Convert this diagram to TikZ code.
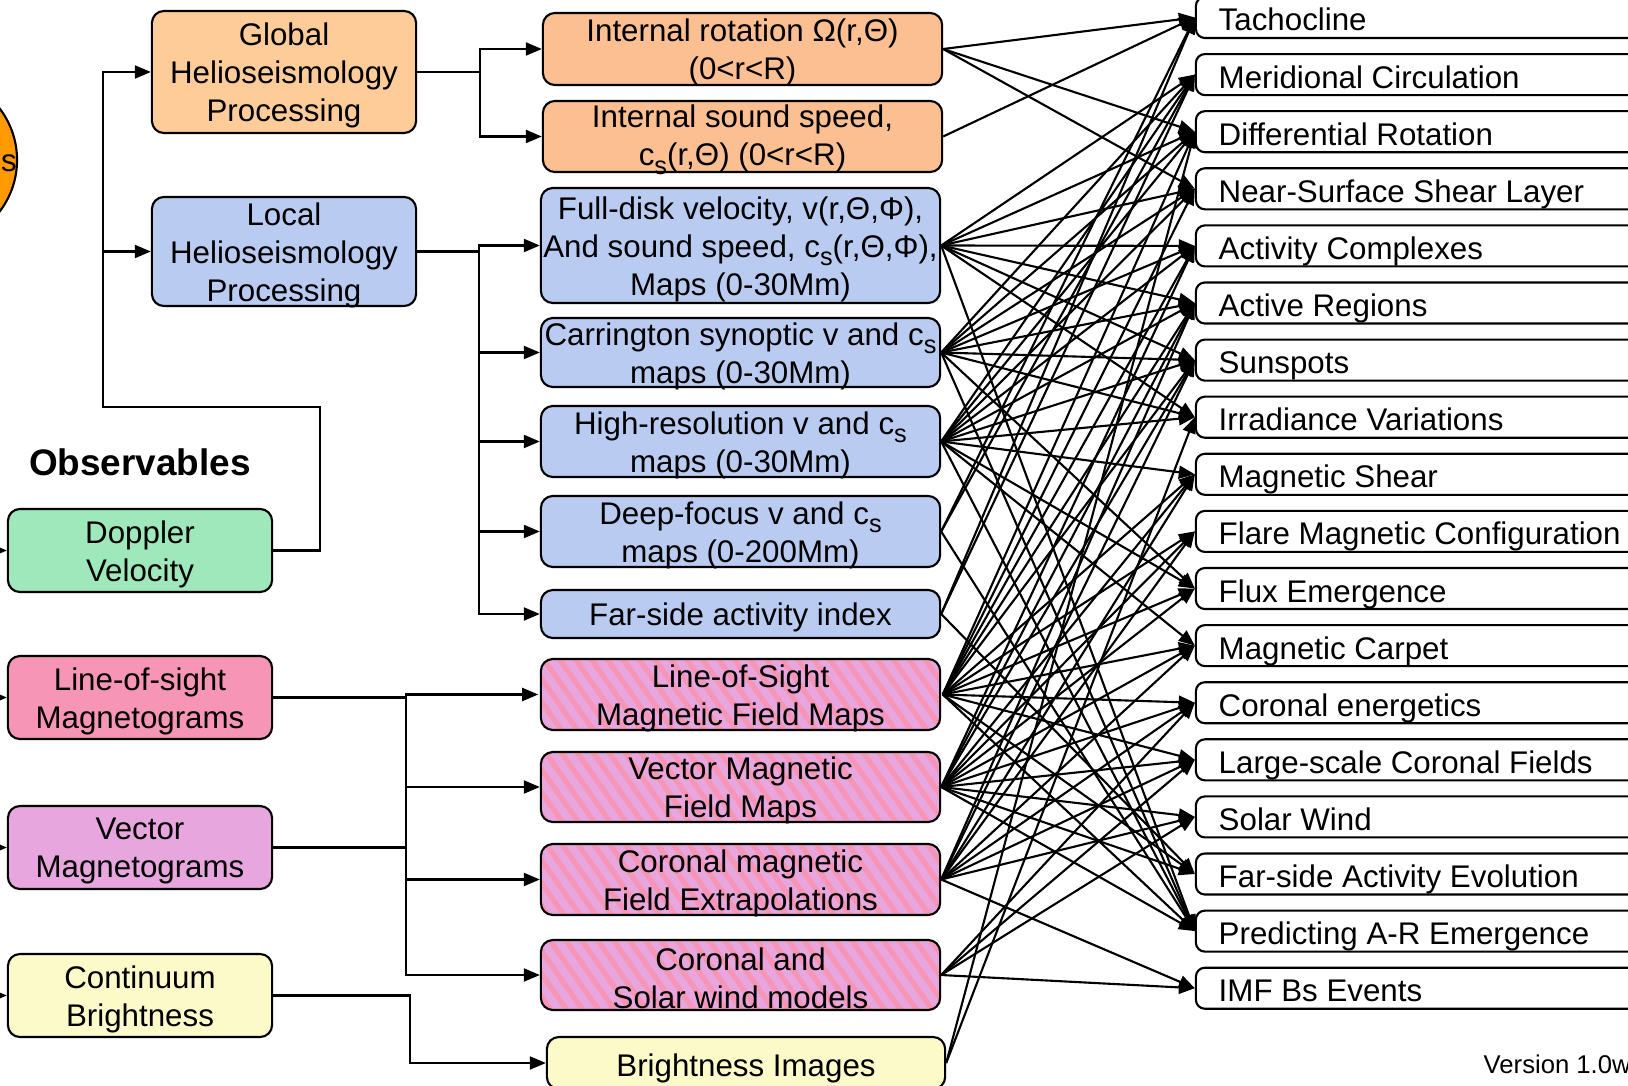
\documentclass[tikz,border=0pt]{standalone}
\usepackage{fontspec}
\setmainfont{Liberation Sans}
\usetikzlibrary{arrows.meta,patterns.meta}

\definecolor{globalorange}{HTML}{FECC99}
\definecolor{productorange}{HTML}{FCBF91}
\definecolor{helioblue}{HTML}{BACBF2}
\definecolor{dopplergreen}{HTML}{9EE8BB}
\definecolor{lospink}{HTML}{F795B6}
\definecolor{vectorviolet}{HTML}{E8A6DF}
\definecolor{contyellow}{HTML}{FCFAC9}
\definecolor{sunorange}{HTML}{FF9A00}

% sound-speed subscript
\newcommand\subs{\raisebox{-0.28em}{\fontsize{7.2}{8}\selectfont s}}

\begin{document}
\begin{tikzpicture}[x=0.01cm, y=-0.01cm,
  font=\fontsize{8.9}{10.8}\selectfont,
  procbox/.style={draw, rounded corners=0.12cm, line width=0.6pt, inner sep=0pt},
  magbox/.style={procbox, preaction={fill=vectorviolet},
    pattern={Lines[angle=-55, distance=3.7pt, line width=1.5pt]}, pattern color=lospink},
  topicbox/.style={draw, rounded corners=0.09cm, line width=0.6pt, inner sep=0pt,
    minimum width=4.6cm, minimum height=0.41cm},
  label/.style={align=center, inner sep=0pt, yshift=-0.035cm},
  topic/.style={anchor=base west, inner sep=0pt},
  link/.style={line width=0.6pt},
  arr/.style={link, -{Triangle[length=0.16cm, width=0.13cm]}}]

\useasboundingbox (0,0) rectangle (1628,1085);

% instrument disc at the left edge
\node[circle, draw, line width=0.6pt, fill=sunorange, minimum size=1.7cm] (sun) at (-68,160) {};
\node[anchor=base west, inner sep=0pt] (sunlbl) at (0.5,172) {s};

% observables
\node[font=\bfseries\fontsize{10.5}{12}\selectfont] (obs) at (140,462) {Observables};
\node[procbox, fill=dopplergreen, minimum width=2.64cm, minimum height=0.83cm] (dop) at (140,550.5) {};
\node[label] at (dop) {Doppler\\Velocity};
\node[procbox, fill=lospink, minimum width=2.64cm, minimum height=0.83cm] (los) at (140,697.5) {};
\node[label] at (los) {Line-of-sight\\Magnetograms};
\node[procbox, fill=vectorviolet, minimum width=2.64cm, minimum height=0.83cm] (vec) at (140,847.5) {};
\node[label] at (vec) {Vector\\Magnetograms};
\node[procbox, fill=contyellow, minimum width=2.64cm, minimum height=0.83cm] (cont) at (140,995.5) {};
\node[label] at (cont) {Continuum\\Brightness};

% processing pipelines
\node[procbox, fill=globalorange, minimum width=2.64cm, minimum height=1.22cm] (glob) at (284,72) {};
\node[label] at (glob) {Global\\Helioseismology\\Processing};
\node[procbox, fill=helioblue, minimum width=2.64cm, minimum height=1.09cm] (loc) at (284,251.5) {};
\node[label] at (loc) {Local\\Helioseismology\\Processing};

% data products
\node[procbox, fill=productorange, minimum width=3.99cm, minimum height=0.72cm] (m1) at (742.5,49) {};
\node[label] at (m1) {Internal rotation Ω(r,Θ)\\(0<r<R)};
\node[procbox, fill=productorange, minimum width=3.99cm, minimum height=0.71cm] (m2) at (742.5,136.5) {};
\node[label] at (m2) {Internal sound speed,\\c\subs(r,Θ) (0<r<R)};
\node[procbox, fill=helioblue, minimum width=3.99cm, minimum height=1.15cm] (m3) at (740.5,245.5) {};
\node[label] at (m3) {Full-disk velocity, v(r,Θ,Φ),\\And sound speed, c\subs(r,Θ,Φ),\\Maps (0-30Mm)};
\node[procbox, fill=helioblue, minimum width=3.99cm, minimum height=0.69cm] (m4) at (740.5,352.5) {};
\node[label] at (m4) {Carrington synoptic v and c\subs\\maps (0-30Mm)};
\node[procbox, fill=helioblue, minimum width=3.99cm, minimum height=0.71cm] (m5) at (740.5,441.5) {};
\node[label] at (m5) {High-resolution v and c\subs\\maps (0-30Mm)};
\node[procbox, fill=helioblue, minimum width=3.99cm, minimum height=0.71cm] (m6) at (740.5,531.5) {};
\node[label] at (m6) {Deep-focus v and c\subs\\maps (0-200Mm)};
\node[procbox, fill=helioblue, minimum width=3.99cm, minimum height=0.48cm] (m7) at (740.5,614) {};
\node[label] at (m7) {Far-side activity index};
\node[magbox, minimum width=3.99cm, minimum height=0.71cm] (m8) at (740.5,694.5) {};
\node[label] at (m8) {Line-of-Sight\\Magnetic Field Maps};
\node[magbox, minimum width=3.99cm, minimum height=0.70cm] (m9) at (740.5,787) {};
\node[label] at (m9) {Vector Magnetic\\Field Maps};
\node[magbox, minimum width=3.99cm, minimum height=0.71cm] (m10) at (740.5,879.5) {};
\node[label] at (m10) {Coronal magnetic\\Field Extrapolations};
\node[magbox, minimum width=3.99cm, minimum height=0.70cm] (m11) at (740.5,975) {};
\node[label] at (m11) {Coronal and\\Solar wind models};
\node[procbox, fill=contyellow, minimum width=3.98cm, minimum height=0.52cm] (m12) at (746,1063) {};
\node[label, yshift=-0.02cm] at (m12) {Brightness Images};

% science topics
\foreach \i/\txt in {1/Tachocline, 2/Meridional Circulation, 3/Differential Rotation,
    4/Near-Surface Shear Layer, 5/Activity Complexes, 6/Active Regions, 7/Sunspots,
    8/Irradiance Variations, 9/Magnetic Shear, 10/Flare Magnetic Configuration,
    11/Flux Emergence, 12/Magnetic Carpet, 13/Coronal energetics,
    14/Large-scale Coronal Fields, 15/Solar Wind, 16/Far-side Activity Evolution,
    17/Predicting A-R Emergence, 18/IMF Bs Events} {
  \pgfmathsetmacro\cy{17.5+57.1*(\i-1)}
  \node[topicbox, fill=white] (t\i) at (1426,\cy) {};
  \node[topic] at (1218,\cy+13.5) {\txt};
}

\node[anchor=base west, inner sep=0pt, font=\fontsize{7.3}{9}\selectfont] (ver) at (1483,1073) {Version 1.0w};

% feeds into the observables
\foreach \o/\yy in {dop/550.5, los/697.5, vec/847.5, cont/995.5} {
  \coordinate (in-\o) at (-30,\yy);
  \draw[arr] (in-\o) -- (\o.west);
}

% Doppler velocity into both helioseismology pipelines
\coordinate (hsplit) at (103,251.5);
\draw[arr] (dop.east) -- ++(47,0) |- (103,407) |- (glob.west);
\draw[arr] (hsplit) -- (loc.west);

% global helioseismology products
\coordinate (gsplit) at (480,72);
\draw[link] (glob.east) -- (gsplit);
\draw[arr] (gsplit) |- (m1.west);
\draw[arr] (gsplit) |- (m2.west);

% local helioseismology products
\coordinate (lsplit) at (479,251.5);
\draw[link] (loc.east) -- (lsplit);
\foreach \m in {m3,m4,m5,m6,m7} \draw[arr] (lsplit) |- (\m.west);

% magnetogram products
\coordinate (msplit) at (406,697.5);
\draw[link] (los.east) -- (msplit);
\draw[link] (vec.east) -- (vec.east -| msplit);
\foreach \m in {m8,m9,m10,m11} \draw[arr] (msplit) |- (\m.west);

% continuum products
\draw[arr] (cont.east) -- ++(137,0) |- (m12.west);

% data products feeding the science topics
\foreach \s/\tl in {
    1/{1,3,4},
    2/{1},
    3/{2,3,4,5,6,7,8,17},
    4/{2,3,4,5,6,7,8,11,17},
    5/{2,3,4,5,6,7,8,9,11,12,17},
    6/{1,2,17},
    7/{1,2,16},
    8/{3,4,5,6,7,9,10,11,12,13,14,16,17},
    9/{5,6,7,9,10,11,12,13,14,15,16,17},
    10/{6,7,9,10,12,13,14,15,18},
    11/{13,14,15,18},
    12/{3,8}} {
  \foreach \t in \tl {
    \draw[arr] (m\s.east) -- (t\t.west);
  }
}
\end{tikzpicture}
\end{document}
